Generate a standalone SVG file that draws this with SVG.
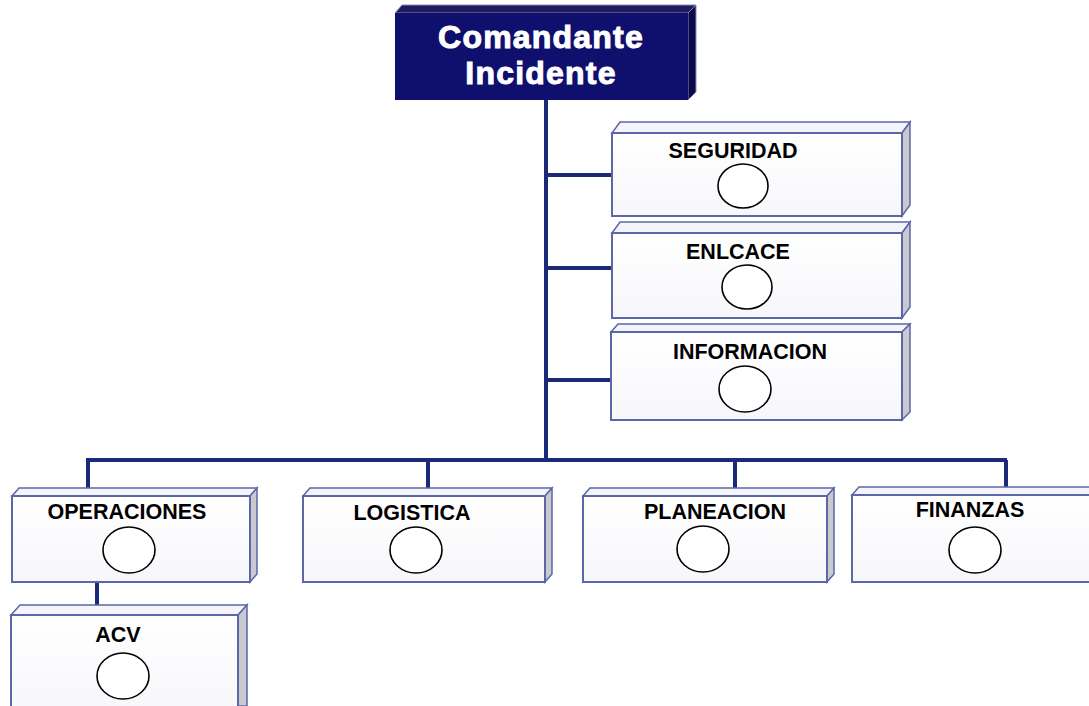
<svg xmlns="http://www.w3.org/2000/svg" width="1089" height="706" viewBox="0 0 1089 706">
<defs>
<linearGradient id="fg" x1="0" y1="0" x2="0" y2="1">
<stop offset="0" stop-color="#ffffff"/>
<stop offset="1" stop-color="#f7f7fb"/>
</linearGradient>
<style>
.front{fill:url(#fg);stroke:#5b67a8;stroke-width:2}
.top{fill:#f4f4fa;stroke:#5b67a8;stroke-width:1.5}
.side{fill:#c9c9cf;stroke:#5b67a8;stroke-width:1.5}
.lbl{font-family:"Liberation Sans",Arial,sans-serif;font-weight:bold;font-size:21.5px;fill:#000;text-anchor:middle}
.circ{fill:#fff;stroke:#000;stroke-width:1.6}
.conn{stroke:#1b2a78;stroke-width:4;fill:none}
.title{font-family:"Liberation Sans",Arial,sans-serif;font-weight:bold;font-size:32px;fill:#fff;stroke:#fff;stroke-width:1;text-anchor:middle;letter-spacing:1.2px}
</style>
</defs>
<rect width="1089" height="706" fill="#fff"/>
<g id="connectors">
<path class="conn" d="M546 100 V460"/>
<path class="conn" d="M546 175 H612 M546 268 H612 M546 380 H611"/>
<path class="conn" d="M86 460 H1007"/>
<path class="conn" d="M88 460 V496 M428 460 V496 M735 460 V496 M1006 460 V496"/>
<path class="conn" d="M97 582 V606"/>
</g>
<g id="comandante">
<polygon points="395,13 402,5 696,5 688,13" fill="#1c1c5e" stroke="#8a8ab0" stroke-width="1"/>
<polygon points="688,13 696,5 696,92 688,100" fill="#0a0a4a" stroke="#8a8ab0" stroke-width="1"/>
<rect x="395" y="13" width="293" height="87" fill="#0f0f6e"/>
<text class="title" x="541" y="48">Comandante</text>
<text class="title" x="541" y="84">Incidente</text>
</g>
<g id="seguridad">
<polygon class="top" points="612,133 620,122 910,122 902,133"/>
<polygon class="side" points="902,133 910,122 910,205 902,216"/>
<rect class="front" x="612" y="133" width="290" height="83"/>
<text class="lbl" x="733" y="158">SEGURIDAD</text>
<ellipse class="circ" cx="743" cy="186" rx="25" ry="22"/>
</g>
<g id="enlcace">
<polygon class="top" points="612,233 620,222 910,222 902,233"/>
<polygon class="side" points="902,233 910,222 910,307 902,318"/>
<rect class="front" x="612" y="233" width="290" height="85"/>
<text class="lbl" x="738" y="259">ENLCACE</text>
<ellipse class="circ" cx="747" cy="287" rx="25" ry="22"/>
</g>
<g id="informacion">
<polygon class="top" points="611,332 618,324 910,324 902,332"/>
<polygon class="side" points="902,332 910,324 910,412 902,420"/>
<rect class="front" x="611" y="332" width="291" height="88"/>
<text class="lbl" x="750" y="359">INFORMACION</text>
<ellipse class="circ" cx="745" cy="389" rx="26" ry="23"/>
</g>
<g id="operaciones">
<polygon class="top" points="12,496 19,488 257,488 250,496"/>
<polygon class="side" points="250,496 257,488 257,574 250,582"/>
<rect class="front" x="12" y="496" width="238" height="86"/>
<text class="lbl" x="127" y="519">OPERACIONES</text>
<ellipse class="circ" cx="129" cy="550" rx="26" ry="23"/>
</g>
<g id="logistica">
<polygon class="top" points="303,496 310,488 552,488 545,496"/>
<polygon class="side" points="545,496 552,488 552,574 545,582"/>
<rect class="front" x="303" y="496" width="242" height="86"/>
<text class="lbl" x="412" y="520">LOGISTICA</text>
<ellipse class="circ" cx="416" cy="550" rx="26" ry="23"/>
</g>
<g id="planeacion">
<polygon class="top" points="583,496 590,488 834,488 827,496"/>
<polygon class="side" points="827,496 834,488 834,574 827,582"/>
<rect class="front" x="583" y="496" width="244" height="86"/>
<text class="lbl" x="715" y="519">PLANEACION</text>
<ellipse class="circ" cx="703" cy="549" rx="26" ry="23"/>
</g>
<g id="finanzas">
<polygon class="top" points="852,495 859,487 1100,487 1093,495"/>
<rect class="front" x="852" y="495" width="242" height="87"/>
<text class="lbl" x="970" y="517">FINANZAS</text>
<ellipse class="circ" cx="975" cy="550" rx="26" ry="23"/>
</g>
<g id="acv">
<polygon class="top" points="11,615 20,605 247,605 238,615"/>
<polygon class="side" points="238,615 247,605 247,706 238,706"/>
<rect class="front" x="11" y="615" width="227" height="100"/>
<text class="lbl" x="118" y="642">ACV</text>
<ellipse class="circ" cx="123" cy="676" rx="26" ry="23"/>
</g>
</svg>
